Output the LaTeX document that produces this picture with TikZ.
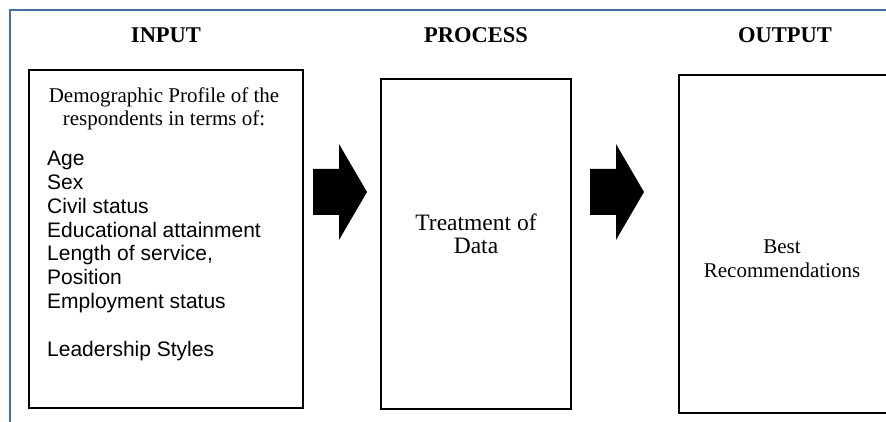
\documentclass[tikz,border=0pt]{standalone}
\usepackage{fontspec}
\setmainfont{Liberation Serif}
\newfontfamily\arialfont{Liberation Sans}
\definecolor{frameblue}{RGB}{70,112,165}
\begin{document}
\begin{tikzpicture}[x=1pt,y=-1pt,
  box/.style={draw=black,line width=2pt,inner sep=0pt},
  header/.style={font=\fontsize{22.5}{24}\selectfont\bfseries},
  serif/.style={font=\fontsize{21}{23.8}\selectfont,align=center,inner sep=0pt},
  sanslist/.style={font=\arialfont\fontsize{21}{23.8}\selectfont,align=left,inner sep=0pt},
  blockarrow/.pic={\fill[black] (0,-23) -- (26,-23) -- (26,-48) -- (54,0) -- (26,48) -- (26,23) -- (0,23) -- cycle;}
]
\useasboundingbox (0,0) rectangle (886,422);
% outer frame lines
\coordinate (fbl) at (10,423);
\coordinate (ftl) at (10,10);
\coordinate (ftr) at (887,10);
\draw[frameblue,line width=1.5pt] (fbl) -- (ftl) -- (ftr);
% headers
\node[header,anchor=base] (hin) at (166,43) {INPUT};
\node[header,anchor=base] (hpr) at (476,43) {PROCESS};
\node[header,anchor=base] (hout) at (785,43) {OUTPUT};
% boxes
\node[box,minimum width=274pt,minimum height=338pt] (inbox) at (166,239) {};
\node[box,minimum width=190pt,minimum height=330pt] (prbox) at (476,244) {};
\node[box,minimum width=210pt,minimum height=338pt] (outbox) at (784,244) {};
% input text (base anchor = last line baseline)
\node[serif,anchor=base] (demo) at (164,126) {Demographic Profile of the\\respondents in terms of:};
\node[sanslist,anchor=base west] (list) at (47,356) {Age\\Sex\\Civil status\\Educational attainment\\Length of service,\\Position\\Employment status\\[23.8pt]Leadership Styles};
% process text
\node[serif,font=\fontsize{23.5}{24}\selectfont,anchor=base] (treat) at (476,254) {Treatment of\\Data};
% output text
\node[serif,anchor=base] (best) at (782,277) {Best\\Recommendations};
% block arrows
\pic at (313,192) {blockarrow};
\pic at (590,192) {blockarrow};
\end{tikzpicture}
\end{document}
